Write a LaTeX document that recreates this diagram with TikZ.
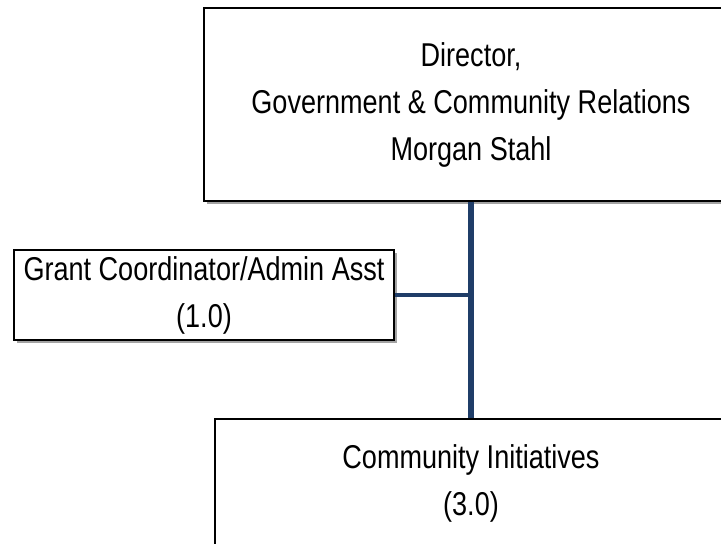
\documentclass[tikz,border=0pt]{standalone}
\usepackage{fontspec}
\setmainfont{Liberation Sans}[FakeStretch=0.82]
\usetikzlibrary{shadows}
\definecolor{navy}{RGB}{31,61,104}
\tikzset{
  orgbox/.style={draw=black, line width=1.4pt, fill=white, rectangle, inner sep=0pt,
    align=center, font=\fontsize{33pt}{47pt}\selectfont,
    drop shadow={shadow xshift=2.5pt, shadow yshift=-3pt, fill=black!45, opacity=0.8}},
  link/.style={draw=navy}
}
\begin{document}
\begin{tikzpicture}[x=1pt,y=1pt]
\useasboundingbox (0,0) rectangle (721,-544);
\node[orgbox, minimum width=534pt, minimum height=193pt] (dir) at (471,-104.5)
  {Director,\\Government \& Community Relations\\Morgan Stahl};
\node[orgbox, minimum width=380pt, minimum height=90pt] (grant) at (204,-295)
  {Grant Coordinator/Admin Asst\\(1.0)};
\node[orgbox, minimum width=512pt, minimum height=128pt] (ci) at (471,-483)
  {Community Initiatives\\(3.0)};
\begin{scope}[on background layer/.try]
\end{scope}
\draw[link, line width=6pt] (dir.south) -- (ci.north);
\draw[link, line width=4.5pt] (grant.east) -- (grant.east -| dir.south);
\end{tikzpicture}
\end{document}
